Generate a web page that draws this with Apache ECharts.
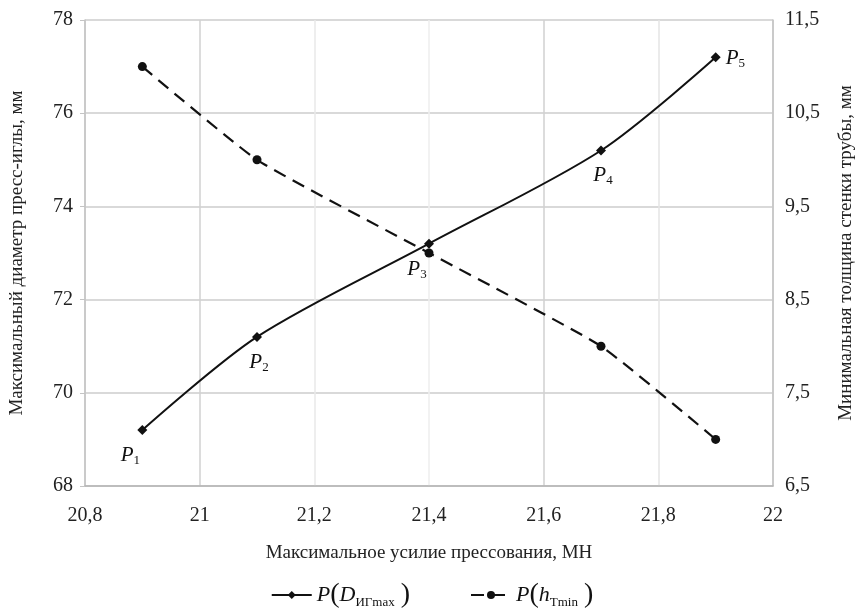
<!DOCTYPE html>
<html>
<head>
<meta charset="utf-8">
<script src="https://cdn.jsdelivr.net/npm/echarts@6/dist/echarts.min.js"></script>
<style>
  html, body { margin: 0; padding: 0; background: #fff; }
  #chart { width: 864px; height: 614px; }
</style>
</head>
<body>
<div id="chart"></div>
<script>
// Pressing force, MN
const force = [20.9, 21.1, 21.4, 21.7, 21.9];
// Maximum diameter of the piercing needle, mm (left axis)
const needleDiameter = [69.2, 71.2, 73.2, 75.2, 77.2];
// Minimum pipe wall thickness, mm (right axis)
const wallThickness = [11.0, 10.0, 9.0, 8.0, 7.0];
// Point names P1..P5 along the diameter curve
const pointNames = ['1', '2', '3', '4', '5'];

const serif = '"Liberation Serif", "DejaVu Serif", serif';

const labelPos = [
  { position: 'bottom', offset: [-12, 4] },
  { position: 'bottom', offset: [2, 4] },
  { position: 'bottom', offset: [-12, 4] },
  { position: 'bottom', offset: [2, 4] },
  { position: 'right', offset: [0, 1] }
];

const rich = {
  p: { fontFamily: serif, fontStyle: 'italic', fontSize: 21, color: '#111' },
  s: { fontFamily: serif, fontSize: 13, color: '#111', verticalAlign: 'bottom', padding: [10, 0, 0, 0] }
};

const diameterData = force.map((x, i) => ({
  value: [x, needleDiameter[i]],
  label: Object.assign({
    show: true,
    formatter: '{p|P}{s|' + pointNames[i] + '}',
    rich: rich
  }, labelPos[i])
}));
const wallData = force.map((x, i) => [x, wallThickness[i]]);

const chart = echarts.init(document.getElementById('chart'), null, { renderer: 'canvas' });

const nameStyle = { fontFamily: serif, fontSize: 19, color: '#222' };

chart.setOption({
  backgroundColor: '#fff',
  animation: false,
  grid: { left: 85, right: 90, top: 20, bottom: 128, containLabel: false },
  xAxis: {
    type: 'value',
    min: 20.8, max: 22, interval: 0.2,
    name: 'Максимальное усилие прессования, МН',
    nameLocation: 'middle', nameGap: 58, nameTextStyle: nameStyle,
    axisLine: { show: true, lineStyle: { color: '#b4b4b4', width: 1.5 } },
    axisTick: { show: false },
    axisLabel: { margin: 20, formatter: v => String(+v.toFixed(1)).replace('.', ','), fontFamily: serif, fontSize: 20, color: '#222' },
    splitLine: { show: true, lineStyle: { color: ['#d0d0d0', '#d0d0d0', '#e8e8e8', '#eeeeee', '#d0d0d0', '#e4e4e4', '#d0d0d0'], width: 1.5 } }
  },
  yAxis: [
    {
      type: 'value',
      min: 68, max: 78, interval: 2,
      name: 'Максимальный диаметр пресс-иглы, мм',
      nameLocation: 'middle', nameRotate: 90, nameGap: 58, nameTextStyle: nameStyle,
      axisLine: { show: true, lineStyle: { color: '#c4c4c4', width: 1.5 } },
      axisTick: { show: true, length: 5, inside: false, lineStyle: { color: '#c4c4c4' } },
      axisLabel: { margin: 12, fontFamily: serif, fontSize: 20, color: '#222' },
      splitLine: { show: true, lineStyle: { color: '#cccccc', width: 1.5 } }
    },
    {
      type: 'value',
      min: 6.5, max: 11.5, interval: 1,
      name: 'Минимальная толщина стенки трубы, мм',
      nameLocation: 'middle', nameRotate: 90, nameGap: 64, nameTextStyle: nameStyle,
      axisLine: { show: true, lineStyle: { color: '#c4c4c4', width: 1.5 } },
      axisTick: { show: false },
      axisLabel: { margin: 12, fontFamily: serif, fontSize: 20, color: '#222', formatter: v => v.toFixed(1).replace('.', ',') },
      splitLine: { show: false }
    }
  ],
  legend: {
    bottom: 0, left: 'center', itemGap: 60, itemWidth: 40, itemHeight: 10,
    data: ['D', 'h'],
    formatter: n => n === 'D' ? '{p|P}{b|(}{d|D}{s|ИГmax}{b|)}' : '{p|P}{b|(}{d|h}{s|Тmin}{b|)}',
    textStyle: {
      rich: {
        p: { fontFamily: serif, fontStyle: 'italic', fontSize: 22, color: '#111' },
        d: { fontFamily: serif, fontStyle: 'italic', fontSize: 22, color: '#111' },
        b: { fontFamily: serif, fontSize: 28, color: '#111' },
        s: { fontFamily: serif, fontSize: 13, color: '#111', verticalAlign: 'bottom', padding: [12, 6, 0, 0] }
      }
    }
  },
  series: [
    {
      name: 'D', type: 'line', yAxisIndex: 0, smooth: 0.3,
      data: diameterData,
      symbol: 'diamond', symbolSize: 10,
      itemStyle: { color: '#111' },
      lineStyle: { color: '#111', width: 2 },
      z: 3
    },
    {
      name: 'h', type: 'line', yAxisIndex: 1, smooth: 0.15,
      data: wallData,
      symbol: 'circle', symbolSize: 9,
      itemStyle: { color: '#111' },
      lineStyle: { color: '#111', width: 2.2, type: [13, 8] },
      z: 2
    }
  ]
});
</script>
</body>
</html>
